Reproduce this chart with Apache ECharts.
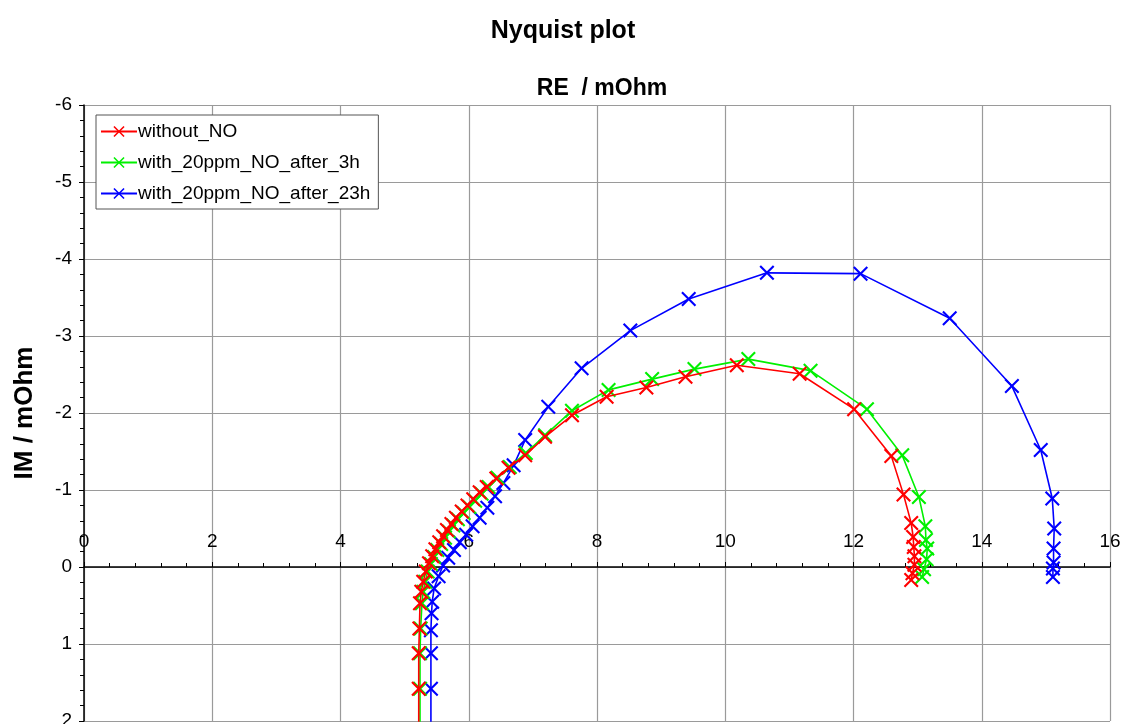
<!DOCTYPE html>
<html><head><meta charset="utf-8">
<script src="https://cdn.jsdelivr.net/npm/echarts@6/dist/echarts.min.js"></script>
<style>html,body{margin:0;padding:0;background:#fff}#c{width:1126px;height:724px}</style>
</head><body><div id="c"></div>
<script>
const seriesNames = ['without_NO', 'with_20ppm_NO_after_3h', 'with_20ppm_NO_after_23h'];
const redRe = [5.22,5.22,5.22,5.23,5.24,5.26,5.29,5.33,5.38,5.43,5.48,5.54,5.60,5.66,5.73,5.80,5.89,5.98,6.07,6.17,6.28,6.43,6.62,6.88,7.19,7.61,8.15,8.77,9.38,10.18,11.16,12.01,12.59,12.78,12.90,12.93,12.94,12.95,12.95,12.92,12.90];
const redIm = [2.5,1.58,1.12,0.80,0.47,0.32,0.19,0.06,-0.05,-0.14,-0.23,-0.32,-0.40,-0.48,-0.56,-0.64,-0.72,-0.80,-0.88,-0.97,-1.04,-1.15,-1.29,-1.45,-1.69,-1.97,-2.21,-2.33,-2.47,-2.62,-2.51,-2.05,-1.44,-0.94,-0.57,-0.39,-0.26,-0.14,-0.03,0.08,0.17];
const greenRe = [5.24,5.24,5.24,5.25,5.27,5.29,5.32,5.36,5.41,5.46,5.51,5.57,5.63,5.69,5.76,5.83,5.92,6.01,6.10,6.20,6.31,6.45,6.64,6.89,7.19,7.61,8.18,8.86,9.52,10.36,11.33,12.21,12.76,13.02,13.12,13.13,13.15,13.14,13.10,13.07];
const greenIm = [2.5,1.58,1.12,0.80,0.47,0.32,0.19,0.06,-0.04,-0.13,-0.22,-0.30,-0.38,-0.46,-0.54,-0.62,-0.70,-0.78,-0.86,-0.95,-1.04,-1.16,-1.30,-1.48,-1.71,-2.03,-2.30,-2.44,-2.57,-2.70,-2.55,-2.05,-1.45,-0.91,-0.53,-0.35,-0.24,-0.10,0.03,0.13];
const blueRe = [5.41,5.41,5.41,5.41,5.42,5.43,5.46,5.53,5.60,5.68,5.77,5.86,5.96,6.06,6.17,6.29,6.41,6.54,6.70,6.88,7.24,7.76,8.52,9.43,10.65,12.11,13.50,14.47,14.92,15.10,15.13,15.12,15.12,15.11,15.11];
const blueIm = [2.5,1.58,1.12,0.82,0.60,0.45,0.28,0.12,-0.02,-0.12,-0.22,-0.32,-0.42,-0.53,-0.64,-0.77,-0.92,-1.09,-1.32,-1.65,-2.08,-2.58,-3.07,-3.48,-3.82,-3.81,-3.23,-2.35,-1.52,-0.89,-0.50,-0.24,-0.06,0.02,0.13];
const colors = ['#ff0000', '#00f000', '#0000ff'];

const X = 'path://M0,1L1,0L5,4L9,0L10,1L6,5L10,9L9,10L5,6L1,10L0,9L4,5Z';
function pairs(a, b) { return a.map((v, i) => [v, b[i]]); }
const data = [pairs(redRe, redIm), pairs(greenRe, greenIm), pairs(blueRe, blueIm)];
const FF = 'Liberation Sans, Arial, sans-serif';

const chart = echarts.init(document.getElementById('c'), null, {renderer: 'canvas'});
chart.setOption({
  animation: false,
  backgroundColor: '#fff',
  title: [
    {text: 'Nyquist plot', left: 'center', top: 14, textStyle: {fontFamily: FF, fontSize: 25, fontWeight: 'bold', color: '#000'}},
    {text: 'RE  / mOhm', left: 597, top: 72, textAlign: 'center', textStyle: {fontFamily: FF, fontSize: 23, fontWeight: 'bold', color: '#000'}}
  ],
  grid: [
    {left: 84, right: 16, top: 105, bottom: 3, outerBoundsMode: 'none', containLabel: false},
    {left: 84, right: 16, top: 567, height: 1, outerBoundsMode: 'none', containLabel: false}
  ],
  legend: {
    orient: 'vertical', left: 96, top: 115,
    data: seriesNames,
    backgroundColor: '#fff', borderColor: '#555', borderWidth: 1,
    padding: [7, 8, 6, 4], itemGap: 12, itemWidth: 36, itemHeight: 14,
    textStyle: {fontFamily: FF, fontSize: 19, color: '#000', padding: [0, 0, 0, -4]}
  },
  xAxis: [{
    type: 'value', min: 0, max: 16, interval: 2, gridIndex: 0,
    axisLine: {show: false}, axisTick: {show: false}, axisLabel: {show: false},
    splitLine: {show: true, lineStyle: {color: '#9a9a9a', width: 1.2}}
  }, {
    type: 'value', min: 0, max: 16, interval: 2, gridIndex: 1, position: 'top',
    axisLine: {show: true, onZero: false, lineStyle: {color: '#000', width: 1.5}},
    axisTick: {show: true, inside: false, length: 5, lineStyle: {color: '#000'}},
    minorTick: {show: true, splitNumber: 5, length: 4, lineStyle: {color: '#000'}},
    axisLabel: {fontFamily: FF, fontSize: 19, color: '#000', margin: 16},
    splitLine: {show: false}
  }],
  yAxis: [{
    type: 'value', min: -6, max: 2, interval: 1, inverse: true, gridIndex: 0,
    name: 'IM / mOhm', nameLocation: 'middle', nameGap: 46, nameRotate: 90,
    nameTextStyle: {fontFamily: FF, fontSize: 26, fontWeight: 'bold', color: '#000'},
    axisLine: {onZero: false, lineStyle: {color: '#000', width: 1.5}},
    axisTick: {show: true, length: 5, lineStyle: {color: '#000'}},
    minorTick: {show: true, splitNumber: 5, length: 4, lineStyle: {color: '#000'}},
    axisLabel: {fontFamily: FF, fontSize: 19, color: '#000', margin: 12},
    splitLine: {show: true, lineStyle: {color: '#9a9a9a', width: 1.2}}
  }, {
    type: 'value', min: 0, max: 1, gridIndex: 1, show: false
  }],
  series: seriesNames.map((n, i) => ({
    name: n, type: 'line', data: data[i], clip: true, xAxisIndex: 0, yAxisIndex: 0,
    symbol: X, symbolSize: 15, showAllSymbol: true,
    lineStyle: {color: colors[i], width: 1.6},
    itemStyle: {color: colors[i]},
    z: 3 - i
  }))
});
</script></body></html>
